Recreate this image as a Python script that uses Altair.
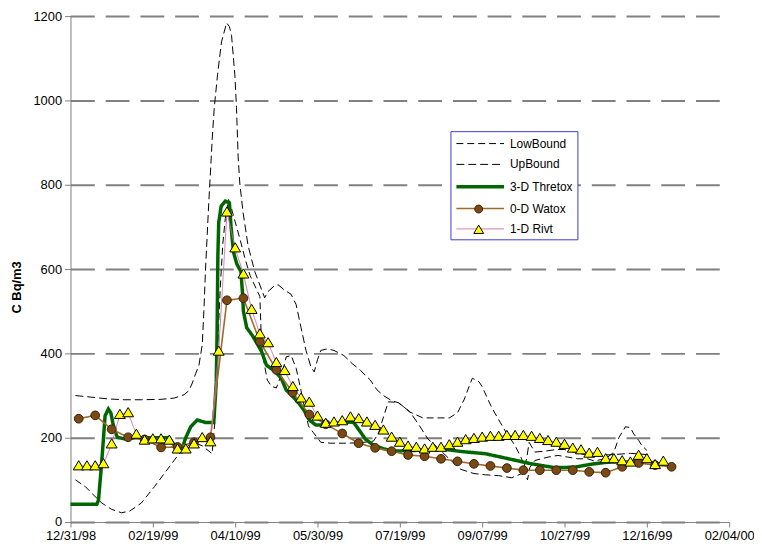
import altair as alt
import pandas as pd

FONT = "Liberation Sans"

# ---- axes ----
TICK_DAYS = [0, 50, 100, 150, 200, 250, 300, 350, 400]
TICK_LABELS = ["12/31/98", "02/19/99", "04/10/99", "05/30/99", "07/19/99",
               "09/07/99", "10/27/99", "12/16/99", "02/04/00"]
Y_TICKS = [0, 200, 400, 600, 800, 1000, 1200]

# ---- series styling ----
SERIES = ["LowBound", "UpBound", "3-D Thretox", "0-D Watox", "1-D Rivt"]
LINE_COLORS = ["#000000", "#000000", "#006600", "#a0692a", "#d070a8"]
LINE_DASH = [[7, 4], [8, 4], [1, 0], [1, 0], [1, 0]]
LINE_WIDTH = [1, 1, 3.5, 1.6, 1]

MSERIES = ["0-D Watox", "1-D Rivt"]
CIRCLE_PATH = "M-0.5,0A0.5,0.5,0,1,1,0.5,0A0.5,0.5,0,1,1,-0.5,0Z"
TRI_PATH = "M0,-0.6L0.62,0.45L-0.62,0.45Z"
LINE_PATH = "M-3,0H3"
M_FILL = ["#7b4a14", "#ffff00"]
M_STROKE = ["#3a2006", "#000000"]

# ---- data (days since 12/31/98, Bq/m3) ----
LOW_DAYS = [3, 9, 13, 19, 25, 31, 36, 43, 51, 60, 66, 74, 80, 86, 87.5, 88.5, 89.5, 91, 92.5, 94,
            96, 98, 100, 103, 106, 109, 112, 115, 116, 117, 118, 119.5, 122, 125, 129, 131, 134, 137,
            139.5, 141.5, 144.5, 147.5, 152, 158, 166, 176, 184, 187, 189, 193, 199, 206, 214, 230,
            235, 239, 242, 244, 248, 250, 253, 256, 261, 264, 270, 274, 276, 277.5, 279, 282, 290,
            296, 302, 308, 314, 318, 325, 330, 333, 337, 340, 342, 345, 347, 350]
LOW_VALS = [100, 84, 68, 45, 30, 22, 26, 45, 84, 131, 162, 189, 181, 162, 230, 330, 430, 560, 660, 720,
            765, 740, 712, 670, 625, 585, 560, 535, 420, 390, 368, 337, 322, 318, 360, 392, 395, 365,
            321, 283, 228, 212, 189, 187, 187, 188, 192, 210, 236, 285, 284, 261, 247, 247,
            259, 290, 321, 341, 333, 321, 295, 270, 236, 216, 181, 150, 120, 100, 130, 146, 154,
            158, 154, 150, 150, 145, 150, 166, 200, 226, 224, 209, 194, 181, 170]

UP_DAYS = [3, 13, 23, 33, 43, 55, 63, 69, 72, 74, 76, 78, 80, 81, 82, 83, 84, 85, 86, 87.3, 89.3,
           91.7, 94.8, 96.5, 97.8, 99.8, 100.8, 101.8, 102.8, 104.8, 107.8, 111.9, 117.9, 120, 124,
           126, 130, 134, 137, 140, 143, 146, 148, 150, 152, 156, 160, 166, 171, 176, 182, 186,
           190, 195, 199, 206, 212, 217, 222, 230, 237, 245, 252, 260, 268, 274, 277, 278.5, 282,
           288, 295, 300, 306, 312, 320, 330, 340, 350]
UP_VALS = [300, 296, 292, 290, 290, 291, 294, 302, 312, 330, 352, 372, 420, 500, 600, 680, 760, 830,
           905, 983, 1061, 1139, 1184, 1175, 1154, 1061, 983, 866, 804, 734, 656, 594, 532, 547, 561,
           563, 550, 540, 516, 461, 407, 368, 356, 385, 407, 411, 407, 395, 376, 360, 337, 314,
           300, 288, 283, 262, 228, 197, 180, 150, 125, 115, 112, 110, 105, 115, 150, 189, 166,
           168, 172, 172, 165, 160, 158, 160, 163, 160]

THR_DAYS = [0, 16, 17, 18.5, 20, 21, 23, 24.5, 26.5, 28.5, 33, 40, 50, 60, 62.5, 65, 67.5, 70, 73,
            77, 82, 87, 88.5, 89, 89.5, 90, 91.5, 94, 96.5, 97.5, 99, 101, 103.5, 104.5, 105, 107,
            110.5, 116, 119, 124, 128, 131, 135, 139, 142, 145, 149, 155, 162, 170, 172, 176, 179,
            184, 190, 196, 210, 226, 238, 252, 266, 280, 294, 306, 316, 326, 345]
THR_VALS = [42, 42, 52, 120, 197, 252, 268, 259, 220, 201, 197, 200, 200, 200, 185, 168, 172, 200, 226,
            242, 236, 236, 330, 446, 633, 710, 749, 761, 757, 700, 640, 612, 594, 540, 500, 461,
            442, 405, 372, 358, 341, 313, 298, 280, 264, 242, 230, 230, 235, 237, 236, 214, 197,
            182, 174, 168, 170, 173, 167, 162, 150, 138, 129, 130, 137, 142, 143]

WAT_DAYS = [5, 15, 25, 35, 45, 55, 65, 75, 85, 95, 105, 115, 125, 135, 145, 155, 165, 175, 185, 195,
            205, 215, 225, 235, 245, 255, 265, 275, 285, 295, 305, 315, 325, 335, 345, 355, 365]
WAT_VALS = [245, 253, 220, 201, 196, 177, 178, 189, 201, 526, 531, 428, 361, 307, 255, 232, 210, 187,
            176, 168, 159, 156, 150, 144, 138, 133, 128, 123, 123, 123, 123, 119, 117, 131, 140, 135,
            131]

RIV_DAYS = [5, 10, 15, 20, 25, 30, 35, 40, 45, 50, 55, 60, 65, 70, 75, 80, 85, 90, 95, 100,
            105, 110, 115, 120, 125, 130, 135, 140, 145, 150, 155, 160, 165, 170, 175, 180, 185, 190,
            195, 200, 205, 210, 215, 220, 225, 230, 235, 240, 245, 250, 255, 260, 265, 270, 275, 280,
            285, 290, 295, 300, 305, 310, 315, 320, 325, 330, 335, 340, 345, 350, 355, 360]
RIV_VALS = [133, 133, 133, 138, 185, 255, 259, 208, 194, 197, 197, 194, 173, 173, 185, 200, 190, 405,
            735, 650, 588, 504, 446, 425, 378, 359, 321, 294, 284, 251, 234, 237, 240, 249, 245, 237,
            229, 218, 201, 189, 180, 177, 173, 177, 177, 183, 189, 195, 198, 201, 203, 203, 205, 205,
            205, 203, 198, 193, 189, 184, 175, 171, 163, 165, 150, 150, 145, 142, 158, 150, 136, 144]


def frame(name, days, vals):
    return pd.DataFrame({"series": name, "day": days, "value": vals})


line_df = pd.concat([
    frame("LowBound", LOW_DAYS, LOW_VALS),
    frame("UpBound", UP_DAYS, UP_VALS),
    frame("3-D Thretox", THR_DAYS, THR_VALS),
    frame("0-D Watox", WAT_DAYS, WAT_VALS),
    frame("1-D Rivt", RIV_DAYS, RIV_VALS),
], ignore_index=True)

mark_df = pd.concat([
    frame("0-D Watox", WAT_DAYS, WAT_VALS),
    frame("1-D Rivt", RIV_DAYS, RIV_VALS),
], ignore_index=True).rename(columns={"series": "mseries"})

label_expr = "[" + ",".join("'%s'" % t for t in TICK_LABELS) + "][round(datum.value/50)]"

x_enc = alt.X(
    "day:Q",
    scale=alt.Scale(domain=[0, 400], nice=False, zero=False),
    axis=alt.Axis(values=TICK_DAYS, labelExpr=label_expr, grid=False, tickSize=5,
                  tickColor="#808080", domainColor="#808080", labelPadding=3,
                  labelFontSize=13, labelFont=FONT, labelColor="#000000", labelFlush=False),
    title=None,
)
y_enc = alt.Y(
    "value:Q",
    scale=alt.Scale(domain=[0, 1200], nice=False),
    axis=alt.Axis(values=Y_TICKS, format="d", grid=True, gridDash=[24, 11], gridColor="#808080",
                  gridWidth=2, tickSize=6, tickColor="#808080", domainColor="#808080",
                  labelPadding=3, labelFontSize=13, labelFont=FONT, labelColor="#000000",
                  title="C Bq/m3", titleFont=FONT, titleFontSize=13, titleFontWeight="bold",
                  titleX=-47, titleY=273, titleColor="#000000"),
)

leg1 = alt.Legend(orient="none", legendX=383, legendY=116, title=None, symbolType=LINE_PATH,
                  symbolSize=256, symbolOffset=16, labelOffset=20, rowPadding=6, padding=4,
                  fillColor="#ffffff", strokeColor="#3c3cc8", labelFontSize=12, labelFont=FONT,
                  labelColor="#000000")
leg2 = alt.Legend(orient="none", legendX=383, legendY=182, title=None,
                  symbolSize=256, symbolOffset=16, labelOffset=20, rowPadding=6, padding=4,
                  labelFontSize=12, labelFont=FONT, labelExpr="''", symbolStrokeWidth=1)

lines = alt.Chart(line_df).mark_line().encode(
    x=x_enc,
    y=y_enc,
    color=alt.Color("series:N", scale=alt.Scale(domain=SERIES, range=LINE_COLORS), legend=leg1),
    strokeDash=alt.StrokeDash("series:N", scale=alt.Scale(domain=SERIES, range=LINE_DASH), legend=leg1),
    strokeWidth=alt.StrokeWidth("series:N", scale=alt.Scale(type="ordinal", domain=SERIES, range=LINE_WIDTH), legend=leg1),
)

markers = alt.Chart(mark_df).mark_point(filled=True, size=310, opacity=1, strokeWidth=1).encode(
    x=x_enc,
    y=y_enc,
    shape=alt.Shape("mseries:N", scale=alt.Scale(domain=MSERIES, range=[CIRCLE_PATH, TRI_PATH]), legend=leg2),
    fill=alt.Fill("mseries:N", scale=alt.Scale(domain=MSERIES, range=M_FILL), legend=leg2),
    stroke=alt.Stroke("mseries:N", scale=alt.Scale(domain=MSERIES, range=M_STROKE), legend=leg2),
)

chart = alt.layer(lines, markers).properties(
    width=664, height=510,
    autosize=alt.AutoSizeParams(type="none"),
    padding={"left": 63, "top": 6, "right": 25, "bottom": 22},
).configure(font=FONT).configure_view(strokeWidth=0)

chart.save("out.html", embed_options={"renderer": "svg", "actions": False})
